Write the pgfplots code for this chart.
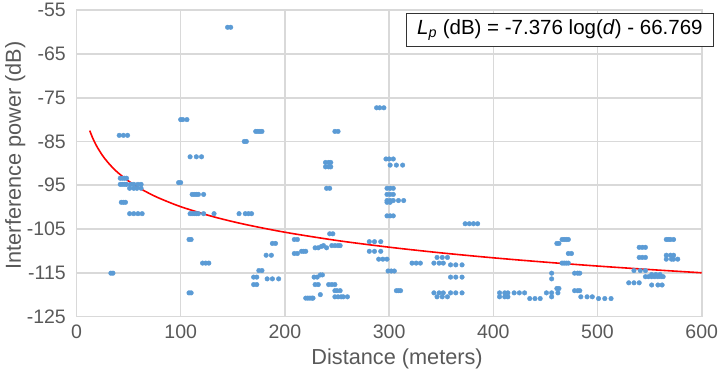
\documentclass[border=0pt]{standalone}
\usepackage{pgfplots}
\pgfplotsset{compat=1.18}
\usepackage{fontspec}
\setmainfont{Liberation Sans}
\definecolor{ptblue}{HTML}{5B9BD5}
\definecolor{gridgray}{HTML}{D9D9D9}
\definecolor{txtgray}{HTML}{595959}
\newcommand{\lblfont}{\fontsize{19.5}{23}\selectfont}
\newcommand{\ttlfont}{\fontsize{21.7}{26}\selectfont}
\begin{document}
\begin{tikzpicture}
\path[use as bounding box] (-76.5pt,-63.5pt) rectangle (643.5pt,316.5pt);
\begin{axis}[
  scale only axis,
  width=625.2pt, height=306.3pt,
  xmin=0, xmax=600, ymin=-125, ymax=-55,
  xtick={0,100,200,300,400,500,600},
  xticklabels={0,100,200,300,400,500,600},
  ytick={-125,-115,-105,-95,-85,-75,-65,-55},
  yticklabels={-125,-115,-105,-95,-85,-75,-65,-55},
  major tick length=0pt,
  grid=major,
  major grid style={draw=gridgray, line width=1.6pt},
  axis line style={draw=gridgray, line width=1.6pt},
  ticklabel style={font=\lblfont, text=txtgray},
  xticklabel style={anchor=base, inner sep=0pt, yshift=-21.5pt},
  yticklabel style={anchor=east, inner sep=0pt, xshift=-10.5pt},
  xlabel={Distance (meters)},
  ylabel={Interference power (dB)},
  label style={font=\ttlfont, text=txtgray, inner sep=0pt},
  xlabel style={at={([xshift=8pt]axis description cs:0.5,0)}, anchor=base, yshift=-48.3pt},
  ylabel style={at={([xshift=-55.7pt,yshift=8pt]axis description cs:0,0.5)}, anchor=base},
  clip=false,
]
\addplot[only marks, mark=*, mark size=2.3pt, color=ptblue, fill=ptblue] coordinates {
(33,-115.1)(35,-115.1)
(41,-83.6)(45,-83.6)(49,-83.6)
(42,-93.4)(44,-93.4)(46,-93.4)(48,-93.4)
(42,-94.8)(44,-94.8)(46,-94.8)(48,-94.8)(52,-94.8)(55,-94.8)(59,-94.8)(62,-94.8)
(51,-95.7)(55,-95.7)(58,-95.7)(62,-95.7)
(43,-98.9)(45,-98.9)(47,-98.9)
(51,-101.5)(55,-101.5)(59,-101.5)(63,-101.5)
(98,-94.4)(100,-94.4)
(100,-80)(102,-80)(106,-80)
(109,-88.5)(115,-88.5)(120,-88.5)
(111,-97.1)(113,-97.1)(115,-97.1)(117,-97.1)(122,-97.1)
(109,-101.5)(111,-101.5)(113,-101.5)(115,-101.5)(117,-101.5)(122,-101.5)(132,-101.5)(156,-101.5)(162,-101.5)(165,-101.5)(168,-101.5)
(108,-107.4)(110,-107.4)
(121,-112.8)(124,-112.8)(127,-112.8)
(108,-119.6)(110,-119.6)
(145,-58.9)(148,-58.9)
(161,-85)(163,-85)
(172,-82.7)(174,-82.7)(176,-82.7)(178,-82.7)
(188,-108.3)(191,-108.3)
(182,-111)(187,-111)
(175,-114.5)(178,-114.5)
(170,-116)(173,-116)
(170,-117.7)(173,-117.7)
(183,-116.4)(188,-116.4)(194,-116.4)
(209,-107.4)(212,-107.4)
(209,-110.6)(212,-110.6)
(216,-110.1)(218,-110.1)(220,-110.1)
(220,-120.8)(222,-120.8)(224,-120.8)(226,-120.8)(227,-120.8)
(228,-116)(231,-116)(234,-115.5)(236,-115.5)
(229,-117.7)(232,-117.7)
(234,-120)
(229,-109.3)(232,-109.3)(235,-109)(237,-108.8)(240,-109.3)(245,-108.8)(248,-108.8)(251,-108.8)(253,-108.8)
(240,-95.7)(243,-95.7)
(239,-89.8)(242,-89.8)(244,-89.8)(239,-90.8)(242,-90.8)(244,-90.8)
(243,-106.1)(246,-106.1)
(248,-82.7)(251,-82.7)
(242,-117.7)(245,-117.7)(248,-117.7)
(248,-119.1)(250,-119.1)(253,-119.1)
(248,-120.5)(251,-120.5)(254,-120.5)(256,-120.5)(260,-120.5)
(281,-107.9)(286,-107.9)(292,-107.9)
(281,-110.1)(286,-110.1)(292,-110.1)
(288,-77.3)(291,-77.3)(295,-77.3)
(290,-111.9)(294,-111.9)(298,-111.9)
(297,-89)(300,-89)(304,-89)
(301,-90.4)(307,-90.4)(313,-90.4)
(298,-95.7)(301,-95.7)(304,-95.7)
(298,-97.1)(301,-97.1)(304,-97.1)
(298,-98.5)(301,-98.5)(304,-98.5)(309,-98.5)(314,-98.5)(298,-98.9)(301,-98.9)
(298,-102)(301,-102)(304,-102)
(299,-114.6)(302,-114.6)(305,-114.6)
(307,-119.1)(309,-119.1)(311,-119.1)
(322,-112.8)(326,-112.8)(330,-112.8)
(343,-112.8)(348,-112.8)(352,-112.8)
(346,-111.5)(351,-111.5)(356,-111.5)
(359,-113.2)(364,-113.2)(370,-113.2)
(359,-116)(364,-116)(370,-116)
(359,-119.6)(364,-119.6)(370,-119.6)
(343,-119.6)(348,-119.6)(352,-119.6)
(346,-120.5)(351,-120.5)(356,-120.5)
(373,-103.8)(377,-103.8)(381,-103.8)(385,-103.8)
(406,-119.6)(411,-119.6)(414,-119.6)(406,-120.5)(411,-120.5)(414,-120.5)
(420,-119.6)(425,-119.6)(430,-119.6)
(435,-120.9)(440,-120.9)(445,-120.9)
(451,-119.6)(456,-119.6)(456,-120.5)(456,-115.1)(456,-116.4)(462,-119.6)(461,-118.6)(463,-118.6)
(461,-108.3)(463,-108.3)
(466,-107.4)(468,-107.4)(470,-107.4)(472,-107.4)
(472,-110.6)(475,-110.6)
(466,-112.8)(468,-112.8)(470,-112.8)(472,-112.8)
(478,-115.1)(481,-115.1)(483,-115.1)
(478,-119.1)(481,-119.1)(483,-119.1)
(484,-120.5)(490,-120.5)(495,-120.5)
(501,-120.9)(507,-120.9)(513,-120.9)
(530,-117.3)(535,-117.3)(540,-117.3)
(535,-114.5)(541,-114.5)(546,-114.5)
(540,-109.2)(543,-109.2)(546,-109.2)
(540,-111.5)(543,-111.5)(546,-111.5)
(546,-115.9)(549,-115.9)(552,-115.9)(555,-115.9)(558,-115.9)(561,-115.9)(563,-115.9)
(552,-115.4)(556,-115.4)(560,-115.4)
(552,-117.8)(558,-117.8)(562,-117.8)
(566,-107.4)(568,-107.4)(570,-107.4)(573,-107.4)
(566,-111)(570,-111)(573,-111)
(566,-111.9)(571,-111.9)(573,-111.9)(577,-111.9)
};
\addplot[red, line width=1.6pt, smooth, no marks] coordinates {
(12.7,-82.51)(15,-83.91)(17.5,-85.21)(20,-86.33)(25,-88.22)(30,-89.75)(35,-91.05)(40,-92.18)(50,-94.06)(60,-95.60)(70,-96.89)(80,-98.02)(100,-99.90)(130,-102.11)(160,-103.86)(200,-105.74)(250,-107.63)(300,-109.16)(350,-110.46)(400,-111.59)(450,-112.58)(500,-113.47)(550,-114.27)(600,-115.01)
};
\end{axis}
\node[draw=black!80, line width=0.8pt, fill=white, anchor=north east, inner xsep=11pt, inner ysep=6pt, font=\fontsize{20.5}{24}\selectfont, text=black]
  at (637.5pt,303.5pt) {\textit{L}\textsubscript{\textit{p}} (dB) = -7.376 log(\textit{d}) - 66.769};
\end{tikzpicture}
\end{document}
